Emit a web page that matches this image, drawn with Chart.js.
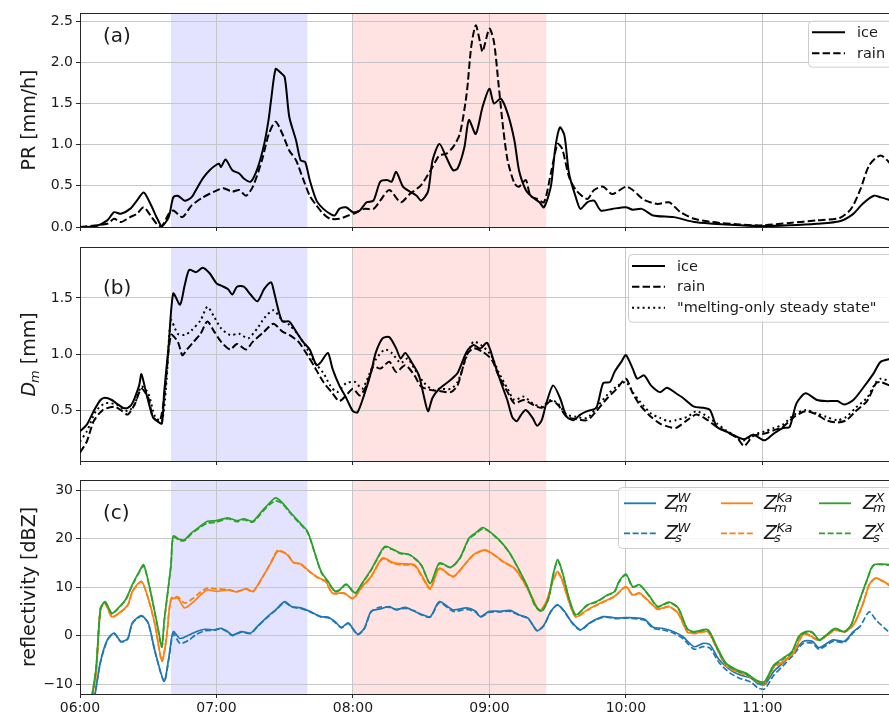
<!DOCTYPE html>
<html>
<head>
<meta charset="utf-8">
<script src="https://cdn.jsdelivr.net/npm/chart.js@4.4.1/dist/chart.umd.min.js"></script>
<style>
  html, body { margin: 0; padding: 0; background: #fff; width: 889px; height: 715px; overflow: hidden; }
  canvas { position: absolute; left: 0; }
</style>
</head>
<body>
<canvas id="pa" width="900" height="232" style="top:0"></canvas>
<canvas id="pb" width="900" height="226" style="top:240px"></canvas>
<canvas id="pc" width="900" height="249" style="top:466px"></canvas>
<script>
// time axis: minutes after 06:00
var T_MAX = 357;
var T_TICKS = [0, 60, 120, 180, 240, 300];
var T_LABELS = ['06:00', '07:00', '08:00', '09:00', '10:00', '11:00'];

// shaded periods (minutes after 06:00)
var SPAN_BLUE = [40, 100];
var SPAN_RED = [120, 205];

// (a) precipitation rate
var PR_TICKS = [0, 0.5, 1, 1.5, 2, 2.5];
var PR_TICK_LABELS = ['0.0', '0.5', '1.0', '1.5', '2.0', '2.5'];
var PR_NAMES = ['ice', 'rain'];
var PR_ICE_T = [0, 7, 12, 15, 18, 22, 25, 28, 31, 34,
    36, 39, 41, 43, 46, 49, 51, 54, 57, 61,
    62, 64, 67, 70, 72, 75, 78, 81, 83, 84,
    86, 88, 90, 92, 95, 97, 99, 101, 104, 107,
    110, 112, 114, 117, 120, 123, 126, 129, 132, 135,
    137, 139, 142, 145, 148, 150, 153, 155, 158, 161,
    164, 166, 169, 171, 174, 177, 180, 182, 185, 188,
    191, 193, 196, 199, 202, 204, 207, 209, 211, 213,
    215, 218, 220, 223, 226, 229, 234, 240, 243, 247,
    252, 261, 270, 278, 290, 300, 312, 324, 334, 340,
    344, 349, 352, 357];
var PR_ICE = [0, 0.01, 0.08, 0.18, 0.16, 0.22, 0.32, 0.42, 0.28, 0.10,
    0.01, 0.12, 0.36, 0.38, 0.32, 0.36, 0.45, 0.59, 0.69, 0.77,
    0.73, 0.82, 0.69, 0.65, 0.59, 0.55, 0.71, 1.01, 1.32, 1.54,
    1.92, 1.88, 1.82, 1.34, 1.05, 0.81, 0.79, 0.57, 0.32, 0.22,
    0.16, 0.14, 0.22, 0.24, 0.18, 0.20, 0.30, 0.32, 0.55, 0.57,
    0.55, 0.67, 0.49, 0.43, 0.38, 0.32, 0.43, 0.81, 1.01, 0.85,
    0.69, 0.71, 0.97, 1.30, 1.13, 1.46, 1.68, 1.50, 1.56, 1.38,
    1.05, 0.69, 0.45, 0.36, 0.30, 0.24, 0.49, 0.97, 1.21, 1.11,
    0.65, 0.36, 0.22, 0.30, 0.32, 0.20, 0.22, 0.24, 0.21, 0.22,
    0.14, 0.12, 0.06, 0.04, 0.02, 0.01, 0.02, 0.04, 0.07, 0.16,
    0.28, 0.38, 0.36, 0.32];
var PR_RAIN_T = [0, 12, 15, 18, 22, 25, 28, 31, 34, 36,
    39, 41, 45, 49, 54, 59, 63, 67, 70, 73,
    76, 80, 83, 86, 89, 92, 95, 98, 101, 104,
    107, 110, 114, 118, 121, 125, 129, 132, 136, 141,
    145, 150, 155, 158, 161, 164, 167, 170, 172, 174,
    176, 177, 180, 182, 184, 186, 188, 191, 193, 196,
    198, 201, 204, 207, 210, 212, 215, 218, 223, 226,
    230, 234, 240, 243, 248, 254, 259, 264, 270, 278,
    290, 300, 312, 324, 334, 339, 343, 347, 352, 357];
var PR_RAIN = [0, 0.04, 0.10, 0.06, 0.12, 0.16, 0.24, 0.14, 0.03, 0.01,
    0.16, 0.20, 0.12, 0.26, 0.36, 0.43, 0.47, 0.43, 0.45, 0.38,
    0.49, 0.81, 1.13, 1.28, 1.13, 0.93, 0.81, 0.59, 0.38, 0.26,
    0.16, 0.10, 0.10, 0.14, 0.17, 0.22, 0.22, 0.32, 0.45, 0.30,
    0.40, 0.51, 0.73, 0.87, 0.89, 0.97, 1.13, 1.62, 2.19, 2.45,
    2.23, 2.13, 2.41, 2.25, 1.74, 1.21, 0.81, 0.53, 0.49, 0.57,
    0.38, 0.34, 0.30, 0.65, 1.01, 0.95, 0.61, 0.45, 0.34, 0.45,
    0.49, 0.40, 0.49, 0.45, 0.33, 0.28, 0.30, 0.18, 0.10, 0.06,
    0.03, 0.02, 0.05, 0.08, 0.11, 0.22, 0.45, 0.75, 0.87, 0.75];

// (b) mass-weighted mean diameter
var DM_TICKS = [0.5, 1.0, 1.5];
var DM_TICK_LABELS = ['0.5', '1.0', '1.5'];
var DM_NAMES = ['ice', 'rain', '"melting-only steady state"'];
var DM_ICE_T = [0, 3, 6, 9, 11, 14, 16, 19, 21, 23,
    26, 27, 29, 32, 34, 36, 37, 39, 41, 44,
    46, 48, 51, 54, 57, 60, 62, 65, 67, 69,
    72, 75, 78, 81, 84, 85, 87, 89, 92, 95,
    98, 101, 104, 106, 109, 111, 114, 117, 120, 122,
    125, 128, 130, 133, 136, 139, 141, 143, 146, 149,
    151, 153, 155, 158, 163, 166, 170, 173, 176, 179,
    182, 185, 188, 190, 192, 194, 196, 199, 201, 203,
    205, 208, 211, 214, 217, 220, 223, 227, 230, 233,
    235, 238, 240, 243, 245, 248, 251, 255, 258, 262,
    265, 270, 274, 277, 280, 284, 289, 292, 296, 301,
    305, 309, 312, 315, 319, 324, 328, 333, 336, 340,
    344, 349, 352, 357];
var DM_ICE = [0.31, 0.37, 0.49, 0.59, 0.61, 0.59, 0.56, 0.52, 0.52, 0.56,
    0.72, 0.82, 0.66, 0.44, 0.40, 0.38, 0.66, 1.08, 1.54, 1.44,
    1.61, 1.75, 1.73, 1.77, 1.72, 1.63, 1.61, 1.58, 1.53, 1.60,
    1.60, 1.53, 1.47, 1.58, 1.64, 1.58, 1.41, 1.29, 1.29, 1.20,
    1.11, 1.04, 0.90, 0.93, 1.01, 0.87, 0.72, 0.61, 0.49, 0.48,
    0.64, 0.84, 1.01, 1.14, 1.15, 1.05, 0.96, 1.01, 0.92, 0.81,
    0.64, 0.49, 0.61, 0.69, 0.77, 0.83, 1.02, 1.08, 1.05, 1.10,
    0.93, 0.75, 0.58, 0.44, 0.40, 0.46, 0.50, 0.43, 0.36, 0.41,
    0.56, 0.72, 0.61, 0.44, 0.41, 0.46, 0.49, 0.52, 0.74, 0.75,
    0.84, 0.93, 0.99, 0.87, 0.78, 0.81, 0.72, 0.66, 0.70, 0.65,
    0.61, 0.53, 0.52, 0.50, 0.35, 0.31, 0.26, 0.24, 0.28, 0.23,
    0.29, 0.34, 0.35, 0.56, 0.65, 0.59, 0.58, 0.58, 0.55, 0.59,
    0.69, 0.83, 0.93, 0.96];
var DM_RAIN_T = [0, 3, 6, 10, 15, 18, 21, 24, 27, 30,
    32, 35, 37, 40, 43, 45, 47, 50, 53, 56,
    59, 62, 66, 69, 73, 76, 81, 85, 89, 92,
    96, 100, 103, 107, 111, 114, 117, 120, 123, 126,
    129, 132, 136, 139, 143, 147, 150, 154, 158, 163,
    166, 170, 173, 177, 181, 184, 188, 191, 195, 199,
    203, 207, 210, 214, 218, 223, 227, 232, 236, 240,
    243, 246, 251, 255, 259, 262, 267, 271, 276, 280,
    284, 289, 292, 296, 301, 305, 309, 314, 319, 324,
    328, 333, 337, 341, 346, 350, 352, 357];
var DM_RAIN = [0.12, 0.22, 0.40, 0.50, 0.53, 0.50, 0.46, 0.55, 0.69, 0.61,
    0.44, 0.40, 0.61, 1.17, 1.11, 0.99, 1.04, 1.11, 1.18, 1.29,
    1.20, 1.11, 1.04, 1.09, 1.04, 1.11, 1.20, 1.27, 1.20, 1.17,
    1.11, 0.99, 0.89, 0.75, 0.65, 0.58, 0.63, 0.69, 0.63, 0.72,
    0.89, 0.87, 0.93, 0.84, 0.90, 0.81, 0.71, 0.68, 0.67, 0.66,
    0.72, 0.99, 1.05, 1.02, 0.95, 0.81, 0.66, 0.56, 0.59, 0.55,
    0.52, 0.58, 0.55, 0.44, 0.42, 0.41, 0.49, 0.61, 0.69, 0.78,
    0.65, 0.55, 0.44, 0.38, 0.35, 0.34, 0.41, 0.46, 0.41, 0.35,
    0.31, 0.25, 0.18, 0.27, 0.29, 0.32, 0.35, 0.44, 0.49, 0.46,
    0.41, 0.39, 0.41, 0.49, 0.58, 0.74, 0.75, 0.71];
var DM_SS_T = [0, 3, 7, 11, 16, 21, 24, 27, 30, 33,
    36, 38, 40, 43, 46, 49, 53, 56, 59, 62,
    66, 70, 74, 78, 81, 85, 89, 92, 96, 100,
    103, 107, 110, 113, 117, 121, 124, 127, 130, 134,
    137, 141, 144, 147, 151, 155, 158,
    163, 166, 170, 173, 177, 181, 184, 188, 191, 195,
    199, 203, 207, 210, 214, 218, 223, 227, 232, 236,
    240, 243, 246, 251, 255, 259, 262, 267, 271, 276,
    280, 284, 289, 292, 296, 301, 305, 309, 314, 319,
    324, 328, 333, 337, 341, 346, 350, 352, 357];
var DM_SS = [0.22, 0.31, 0.49, 0.56, 0.55, 0.49, 0.55, 0.71, 0.65, 0.44,
    0.40, 0.75, 1.30, 1.18, 1.17, 1.21, 1.30, 1.42, 1.33, 1.23,
    1.17, 1.18, 1.14, 1.23, 1.32, 1.39, 1.30, 1.26, 1.17, 1.04,
    0.93, 0.83, 0.72, 0.66, 0.74, 0.75, 0.69, 0.81, 0.95, 1.04,
    1.01, 0.92, 0.96, 0.87, 0.75, 0.68, 0.69,
    0.69, 0.75, 0.98, 1.11, 1.07, 0.98, 0.84, 0.69, 0.59, 0.62,
    0.56, 0.53, 0.59, 0.56, 0.46, 0.44, 0.43, 0.52, 0.64, 0.71,
    0.75, 0.66, 0.58, 0.47, 0.43, 0.40, 0.41, 0.44, 0.49, 0.44,
    0.38, 0.32, 0.26, 0.23, 0.28, 0.31, 0.34, 0.37, 0.46, 0.50,
    0.47, 0.44, 0.41, 0.44, 0.52, 0.61, 0.75, 0.78, 0.75];

// (c) reflectivity, measured (m) and simulated (s)
var Z_TICKS = [-10, 0, 10, 20, 30];
var Z_TICK_LABELS = ['\u221210', '0', '10', '20', '30'];
var Z_BANDS = ['W', 'Ka', 'X'];
var ZW_T = [4, 7, 9, 12, 15, 18, 21, 23, 27, 30,
    33, 37, 39, 41, 44, 48, 51, 55, 59, 62,
    65, 67, 71, 75, 78, 82, 86, 90, 93, 97,
    101, 106, 109, 112, 115, 118, 122, 125, 128, 132,
    136, 139, 143, 147, 150, 154, 158, 164, 170, 174,
    176, 180, 185, 189, 193, 197, 201, 204, 207, 210,
    213, 216, 220, 224, 230, 236, 240, 248, 252, 256,
    261, 265, 270, 274, 277, 281, 286, 290, 295, 298,
    301, 305, 309, 314, 318, 322, 325, 331, 336, 340,
    343, 347, 350, 357];
var ZW_M = [-20, -11, -5.4, -0.9, 0.5, -1.2, -0.6, 2.6, 4.1, 2.6,
    -3.3, -9.4, -4.7, 0.8, -0.6, 0.1, 0.8, 1.3, 1.2, 1.5,
    0.8, 0.1, 0.8, 0.5, 1.9, 3.7, 5.3, 7.0, 6.0, 5.7,
    5.0, 3.9, 3.8, 2.9, 1.7, 2.6, 0.3, 1.5, 5.0, 5.5,
    6.0, 5.3, 5.8, 5.0, 4.4, 3.9, 7.0, 5.3, 5.7, 5.0,
    3.9, 5.0, 5.0, 5.2, 4.3, 3.6, 1.0, 2.2, 5.0, 6.3,
    5.0, 2.9, 1.2, 2.6, 3.9, 3.6, 3.7, 3.4, 1.7, 1.5,
    0.8, -0.2, -2.3, -1.6, -1.9, -5.0, -7.1, -8.1, -8.8, -9.9,
    -10.1, -7.4, -5.7, -3.3, -1.2, -1.2, -2.5, -0.9, -1.2, 0.8,
    1.9, null, null, null];
var ZW_S = [-20, -11, -5.5, -1.0, 0.4, -1.3, -0.7, 2.5, 4.0, 2.5,
    -3.4, -9.5, -5.0, 0.3, -1.6, -0.9, 0.2, 1.0, 1.1, 1.4,
    0.7, 0.0, 0.7, 0.4, 1.8, 3.6, 5.2, 6.8, 5.9, 5.6,
    4.9, 3.8, 3.7, 2.8, 1.6, 2.5, 0.2, 1.4, 4.9, 5.9,
    5.8, 5.4, 5.6, 5.1, 4.3, 3.8, 6.8, 5.0, 5.4, 4.8,
    3.8, 4.8, 4.9, 5.0, 4.2, 3.5, 1.0, 2.1, 4.9, 6.4,
    4.9, 2.8, 1.1, 2.5, 3.8, 3.5, 3.6, 3.2, 1.5, 1.2,
    0.5, -0.6, -2.8, -2.3, -2.6, -5.6, -7.8, -8.8, -9.6, -10.8,
    -11.0, -8.2, -6.3, -3.8, -1.6, -1.6, -2.8, -1.2, -1.4, 0.6,
    1.9, 4.9, 3.2, 0.1];
var ZKA_T = [4, 7, 9, 11, 14, 17, 21, 23, 27, 30,
    33, 36, 38, 40, 43, 46, 50, 53, 56, 60,
    65, 69, 73, 76, 80, 84, 87, 91, 94, 97,
    101, 105, 108, 111, 116, 120, 124, 128, 133, 138,
    142, 147, 150, 154, 158, 164, 169, 173, 178, 182,
    186, 191, 195, 199, 202, 205, 208, 210, 212, 215,
    218, 223, 227, 232, 235, 240, 243, 246, 251, 254,
    259, 263, 267, 270, 276, 280, 284, 289, 293, 298,
    301, 305, 309, 314, 317, 319, 325, 332, 336, 340,
    344, 347, 350, 357];
var ZKA_M = [-16, -8, 5.7, 6.7, 3.9, 4.6, 6.3, 9.1, 11.2, 7.7,
    2.2, -5.2, -0.6, 7.4, 7.7, 5.7, 7.0, 8.4, 9.4, 9.1,
    9.4, 9.0, 9.7, 9.1, 11.9, 15.0, 17.4, 16.7, 15.0, 14.8,
    13.2, 11.9, 11.2, 8.8, 8.8, 7.7, 10.1, 12.2, 16.0, 15.0,
    14.8, 14.6, 12.6, 9.8, 13.9, 12.2, 14.6, 16.7, 17.7, 16.7,
    15.3, 13.9, 11.2, 7.7, 5.1, 7.0, 11.5, 13.2, 11.5, 7.0,
    3.9, 5.3, 6.3, 7.4, 8.1, 10.1, 8.4, 8.8, 6.7, 5.5,
    6.0, 4.6, 0.8, 0.5, 0.8, -2.6, -6.1, -7.4, -8.0, -9.4,
    -9.7, -6.4, -5.4, -3.3, -0.2, 0.5, -0.9, 1.2, 0.8, 2.2,
    6.3, 10.5, 11.9, 10.1];
var ZKA_S = [-16, -8, 5.6, 6.6, 3.8, 4.5, 6.2, 9.0, 11.1, 7.6,
    2.1, -5.3, -0.5, 7.6, 8.0, 6.7, 7.8, 9.0, 9.8, 9.6,
    9.5, 9.1, 9.6, 9.0, 11.8, 15.2, 17.6, 16.8, 15.1, 14.7,
    13.1, 11.8, 11.1, 8.7, 8.7, 7.6, 10.0, 12.1, 15.8, 14.8,
    14.6, 14.4, 12.4, 9.6, 13.8, 12.1, 14.5, 16.6, 17.6, 16.6,
    15.2, 13.8, 11.1, 7.6, 5.0, 6.9, 11.3, 13.0, 11.3, 6.9,
    3.8, 5.2, 6.2, 7.3, 8.0, 10.0, 8.3, 8.7, 6.6, 5.4,
    5.9, 4.5, 0.7, 0.4, 0.7, -2.8, -6.3, -7.6, -8.2, -9.6,
    -9.9, -6.6, -5.6, -3.5, -0.4, 0.3, -1.0, 1.1, 0.7, 2.1,
    6.2, 10.4, 11.8, 10.0];
var ZX_T = [4, 7, 9, 11, 14, 16, 20, 23, 26, 28,
    31, 34, 36, 37, 40, 41, 44, 46, 49, 53,
    56, 60, 65, 69, 72, 76, 80, 83, 86, 89,
    92, 96, 100, 103, 106, 109, 112, 114, 117, 121,
    124, 128, 130, 134, 138, 141, 145, 150, 154, 158,
    163, 167, 171, 174, 177, 180, 185, 189, 193, 197,
    200, 203, 206, 208, 210, 212, 215, 218, 223, 227,
    232, 235, 237, 240, 243, 246, 250, 254, 259, 263,
    267, 270, 276, 280, 284, 289, 293, 298, 301, 305,
    309, 313, 316, 319, 322, 325, 328, 332, 336, 339,
    342, 346, 349, 357];
var ZX_M = [-16, -7, 5.5, 7.0, 4.6, 5.3, 7.4, 10.5, 13.2, 14.6,
    9.1, 2.2, -2.3, 2.9, 14.6, 20.5, 19.8, 19.8, 21.2, 22.6,
    23.6, 23.7, 24.3, 23.7, 24.1, 23.6, 25.7, 27.2, 28.4, 27.4,
    25.7, 23.6, 21.5, 17.4, 13.2, 11.2, 9.2, 9.4, 10.6, 8.8,
    10.8, 13.6, 15.3, 18.4, 17.7, 17.0, 16.7, 14.6, 10.8, 15.0,
    14.1, 16.0, 20.1, 21.2, 22.3, 21.5, 19.4, 17.0, 13.6, 9.8,
    6.3, 5.1, 7.7, 12.6, 15.7, 13.2, 7.7, 4.3, 6.3, 7.0,
    8.4, 9.1, 11.2, 12.7, 10.1, 10.5, 8.4, 6.0, 6.9, 5.7,
    1.4, 0.8, 1.2, -2.3, -5.7, -7.1, -7.8, -9.4, -9.5, -6.1,
    -4.7, -3.3, -0.2, 0.8, 0.7, -0.9, 0.1, 1.5, 0.8, 2.2,
    6.3, 11.5, 14.6, 14.6];
var ZX_S = [-16, -7, 5.3, 6.8, 4.5, 5.2, 7.3, 10.4, 13.0, 14.4,
    9.0, 2.1, -2.4, 2.8, 14.4, 20.3, 19.6, 19.6, 21.0, 22.4,
    23.2, 23.4, 24.1, 23.5, 23.9, 23.4, 25.4, 26.9, 27.8, 27.2,
    25.5, 23.4, 21.3, 17.3, 13.1, 11.1, 9.1, 9.3, 10.5, 8.7,
    10.7, 13.5, 15.2, 18.2, 17.6, 16.9, 16.6, 14.5, 10.7, 14.8,
    14.0, 15.9, 19.9, 21.0, 22.0, 21.4, 19.3, 16.9, 13.5, 9.7,
    6.2, 5.0, 7.6, 12.4, 15.4, 13.1, 7.6, 4.2, 6.2, 6.9,
    8.3, 9.0, 11.0, 12.5, 10.0, 10.4, 8.3, 5.9, 6.8, 5.6,
    1.3, 0.7, 1.1, -2.5, -5.9, -7.3, -8.0, -9.6, -9.8, -6.3,
    -4.9, -3.5, -0.4, 0.6, 0.6, -1.0, 0.0, 1.4, 0.7, 2.1,
    6.2, 11.4, 14.5, 14.5];

var FONT = "'DejaVu Sans', sans-serif";
var AXIS = '#262626';
var TEXT = '#1a1a1a';
var GRID = '#c6c6c6';
var BLUE = '#1f77b4';
var ORANGE = '#ff7f0e';
var GREEN = '#2ca02c';
var DASH = [7.4, 3.2];
var DOT = [2, 3.3];
var DASH_C = [6, 2.6];

function series(label, t, v, color, width, dash) {
    return {
        label: label,
        data: t.map(function (x, i) { return { x: x, y: v[i] }; }),
        borderColor: color,
        borderWidth: width,
        borderDash: dash,
        borderCapStyle: 'butt',
        pointRadius: 0,
        tension: 0.25,
        fill: false,
        clip: 0
    };
}

function scales(yMin, yMax, yTicks, yLabels, showX, xHeight) {
    return {
        x: {
            type: 'linear', min: 0, max: T_MAX,
            afterBuildTicks: function (s) { s.ticks = T_TICKS.map(function (v) { return { value: v }; }); },
            afterFit: function (s) { s.height = xHeight; s.paddingLeft = 0; s.paddingRight = 0; },
            grid: { color: GRID, tickColor: AXIS, tickLength: 4 },
            border: { color: AXIS, width: 1 },
            ticks: {
                display: showX, color: TEXT, font: { family: FONT, size: 14 }, padding: 2,
                maxRotation: 0, autoSkip: false,
                callback: function (v, i) { return T_LABELS[i]; }
            }
        },
        y: {
            min: yMin, max: yMax,
            afterBuildTicks: function (s) { s.ticks = yTicks.map(function (v) { return { value: v }; }); },
            afterFit: function (s) { s.width = 80; s.paddingTop = 0; s.paddingBottom = 0; },
            grid: { color: GRID, tickColor: AXIS, tickLength: 4 },
            border: { color: AXIS, width: 1 },
            ticks: {
                color: TEXT, font: { family: FONT, size: 14 }, padding: 3, autoSkip: false,
                callback: function (v, i) { return yLabels[i]; }
            }
        }
    };
}

function roundBox(ctx, x, y, w, h, r) {
    ctx.beginPath();
    ctx.moveTo(x + r, y);
    ctx.lineTo(x + w - r, y);
    ctx.arcTo(x + w, y, x + w, y + r, r);
    ctx.lineTo(x + w, y + h - r);
    ctx.arcTo(x + w, y + h, x + w - r, y + h, r);
    ctx.lineTo(x + r, y + h);
    ctx.arcTo(x, y + h, x, y + h - r, r);
    ctx.lineTo(x, y + r);
    ctx.arcTo(x, y, x + r, y, r);
    ctx.closePath();
}

function legendBox(ctx, x, y, h) {
    ctx.save();
    roundBox(ctx, x + 0.5, y + 0.5, 900 - x + 10, h, 4);
    ctx.fillStyle = 'rgba(255,255,255,0.8)';
    ctx.fill();
    ctx.strokeStyle = '#cccccc';
    ctx.lineWidth = 1;
    ctx.stroke();
    ctx.restore();
}

function handle(ctx, x0, x1, y, color, width, dash) {
    ctx.save();
    ctx.strokeStyle = color;
    ctx.lineWidth = width;
    ctx.setLineDash(dash);
    ctx.lineCap = 'butt';
    ctx.beginPath();
    ctx.moveTo(x0, y);
    ctx.lineTo(x1, y);
    ctx.stroke();
    ctx.restore();
}

function drawZ(ctx, x, y, sup, sub) {
    ctx.fillStyle = TEXT;
    ctx.textBaseline = 'alphabetic';
    ctx.textAlign = 'left';
    ctx.font = 'italic 19px ' + FONT;
    ctx.fillText('Z', x, y);
    var w = ctx.measureText('Z').width;
    ctx.font = 'italic 13px ' + FONT;
    ctx.fillText(sup, x + w - 0.5, y - 7);
    ctx.fillText(sub, x + w - 3, y + 3);
}

function plainLabel(text) {
    return function (ctx) {
        ctx.font = '19px ' + FONT;
        ctx.textAlign = 'center';
        ctx.fillText(text, 0, 0);
    };
}

function dmLabel(ctx) {
    ctx.textAlign = 'left';
    ctx.font = 'italic 19px ' + FONT;
    var wD = ctx.measureText('D').width;
    ctx.font = 'italic 13px ' + FONT;
    var wm = ctx.measureText('m').width;
    ctx.font = '19px ' + FONT;
    var wr = ctx.measureText(' [mm]').width;
    var x = -(wD + wm + wr) / 2;
    ctx.font = 'italic 19px ' + FONT;
    ctx.fillText('D', x, 0);
    ctx.font = 'italic 13px ' + FONT;
    ctx.fillText('m', x + wD - 1, 4);
    ctx.font = '19px ' + FONT;
    ctx.fillText(' [mm]', x + wD + wm - 1, 0);
}

function textLegend(left, top, height, rows, styles, names) {
    return function (ctx) {
        legendBox(ctx, left, top, height);
        names.forEach(function (name, i) {
            var y = rows[i];
            handle(ctx, left + 4, left + 37, y, '#000', 2, styles[i]);
            ctx.fillStyle = TEXT;
            ctx.font = '14.5px ' + FONT;
            ctx.textBaseline = 'middle';
            ctx.textAlign = 'left';
            ctx.fillText(name, left + 49, y + 1);
        });
    };
}

function zLegend(ctx) {
    var left = 618, top = 21;
    legendBox(ctx, left, top, 61);
    var colors = [BLUE, ORANGE, GREEN];
    var hx = [624, 721, 819];
    var tx = [665, 764, 863];
    var rows = [37.3, 67.3];
    Z_BANDS.forEach(function (band, c) {
        ['m', 's'].forEach(function (kind, r) {
            handle(ctx, hx[c], hx[c] + 32, rows[r], colors[c], 1.8, kind === 'm' ? [] : DASH_C);
            drawZ(ctx, tx[c], rows[r] + 6, band, kind);
        });
    });
}

// per-panel decorations, keyed by canvas id (kept out of Chart options so
// the functions are not treated as scriptable options)
var DECO = {
    pa: { letter: '(a)', letterDy: 29, ylabel: plainLabel('PR [mm/h]'),
          legend: textLegend(808, 20.7, 46, [32.3, 53.3], [[], DASH], PR_NAMES) },
    pb: { letter: '(b)', letterDy: 46.5, ylabel: dmLabel,
          legend: textLegend(628, 14, 67.7, [26, 46.7, 67.7], [[], DASH, DOT], DM_NAMES) },
    pc: { letter: '(c)', letterDy: 39, ylabel: plainLabel('reflectivity [dBZ]'),
          legend: zLegend }
};

var deco = {
    id: 'deco',
    beforeDraw: function (chart) {
        var a = chart.chartArea, xs = chart.scales.x, ctx = chart.ctx;
        ctx.save();
        [[SPAN_BLUE, 'rgba(0,0,255,0.11)'], [SPAN_RED, 'rgba(255,0,0,0.11)']].forEach(function (s) {
            var x0 = xs.getPixelForValue(s[0][0]), x1 = xs.getPixelForValue(s[0][1]);
            ctx.fillStyle = s[1];
            ctx.fillRect(x0, a.top, x1 - x0, a.bottom - a.top);
        });
        ctx.restore();
    },
    afterDraw: function (chart) {
        var a = chart.chartArea, ctx = chart.ctx, o = DECO[chart.canvas.id];
        ctx.save();
        ctx.strokeStyle = AXIS;
        ctx.lineWidth = 1;
        ctx.beginPath();
        ctx.moveTo(a.left, Math.round(a.top) + 0.5);
        ctx.lineTo(a.right, Math.round(a.top) + 0.5);
        ctx.stroke();
        ctx.fillStyle = TEXT;
        ctx.font = '20px ' + FONT;
        ctx.textBaseline = 'alphabetic';
        ctx.textAlign = 'left';
        ctx.fillText(o.letter, 103, a.top + o.letterDy);
        ctx.translate(34.5, (a.top + a.bottom) / 2);
        ctx.rotate(-Math.PI / 2);
        o.ylabel(ctx);
        ctx.restore();
        ctx.save();
        o.legend(ctx);
        ctx.restore();
    }
};

Chart.defaults.font.family = FONT;

function panel(id, datasets, top, yMin, yMax, yTicks, yLabels, showX, xHeight) {
    return new Chart(document.getElementById(id), {
        type: 'line',
        data: { datasets: datasets },
        options: {
            responsive: false, animation: false,
            layout: { padding: { top: top, right: 8, left: 0, bottom: 0 } },
            scales: scales(yMin, yMax, yTicks, yLabels, showX, xHeight),
            plugins: { legend: { display: false }, tooltip: { enabled: false } }
        },
        plugins: [deco]
    });
}

panel('pa', [
    series(PR_NAMES[1], PR_RAIN_T, PR_RAIN, '#000', 2, DASH),
    series(PR_NAMES[0], PR_ICE_T, PR_ICE, '#000', 2, [])
], 13, 0, 2.6, PR_TICKS, PR_TICK_LABELS, false, 5);

panel('pb', [
    series(DM_NAMES[2], DM_SS_T, DM_SS, '#000', 2, DOT),
    series(DM_NAMES[1], DM_RAIN_T, DM_RAIN, '#000', 2, DASH),
    series(DM_NAMES[0], DM_ICE_T, DM_ICE, '#000', 2, [])
], 7, 0.046, 1.954, DM_TICKS, DM_TICK_LABELS, false, 5);

panel('pc', [
    series('Z_s^X', ZX_T, ZX_S, GREEN, 1.7, DASH_C),
    series('Z_m^X', ZX_T, ZX_M, GREEN, 1.7, []),
    series('Z_s^Ka', ZKA_T, ZKA_S, ORANGE, 1.7, DASH_C),
    series('Z_m^Ka', ZKA_T, ZKA_M, ORANGE, 1.7, []),
    series('Z_s^W', ZW_T, ZW_S, BLUE, 1.7, DASH_C),
    series('Z_m^W', ZW_T, ZW_M, BLUE, 1.7, [])
], 14, -12.06, 32.1, Z_TICKS, Z_TICK_LABELS, true, 21);
</script>
</body>
</html>
